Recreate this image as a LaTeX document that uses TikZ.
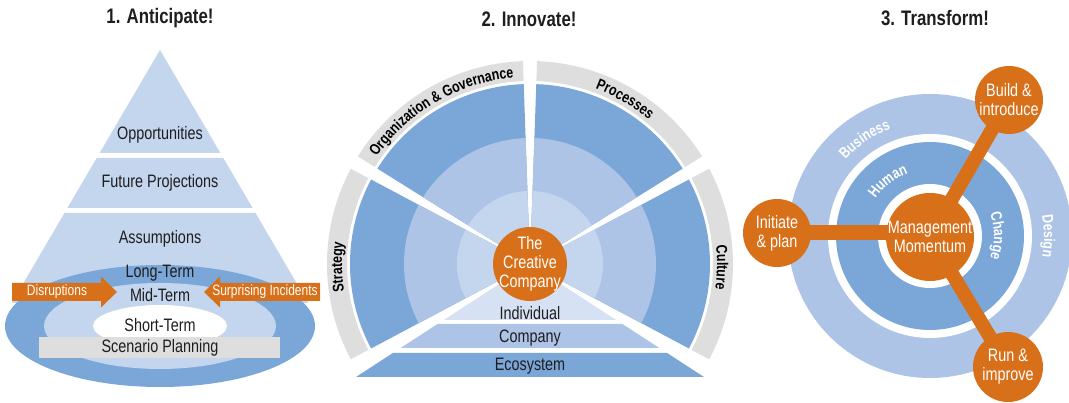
\documentclass[tikz,border=0pt]{standalone}
\usepackage{fontspec}
\setmainfont{Liberation Sans}[FakeStretch=0.8]
\usetikzlibrary{decorations.text,calc}
\pgfdeclarelayer{bg}
\pgfdeclarelayer{lines}
\pgfsetlayers{bg,lines,main}
\definecolor{lbA}{HTML}{D6E2F3}
\definecolor{lbB}{HTML}{C4D5EE}
\definecolor{lbC}{HTML}{ADC4E6}
\definecolor{dbl}{HTML}{7BA6D8}
\definecolor{gry}{HTML}{DEDEDE}
\definecolor{orng}{HTML}{D8701A}
\definecolor{ink}{HTML}{1E1E1E}
\newcommand\glab{\fontsize{15.5}{15.5}\selectfont\bfseries}
\newcommand\pieS[4]{\fill[#4] (C2) -- ($(C2)+(#1:#3)$) arc[start angle=#1, end angle=#2, radius=#3] -- cycle;}
\newcommand\annS[5]{\fill[#5] ($(C2)+(#1:#3)$) arc[start angle=#1, end angle=#2, radius=#3] -- ($(C2)+(#2:#4)$) arc[start angle=#2, end angle=#1, radius=#4] -- cycle;}
\begin{document}
\begin{tikzpicture}[x=1pt,y=1pt,
  txt/.style={font=\fontsize{18}{19}\selectfont, text=ink, inner sep=0pt, align=center},
  wtxt/.style={font=\fontsize{18}{19}\selectfont, text=white, inner sep=0pt, align=center},
  arrtxt/.style={font=\fontsize{15}{16}\selectfont, text=white, inner sep=0pt},
  ttl/.style={font=\fontsize{21}{22}\selectfont\bfseries, text=ink, inner sep=0pt},
  odisc/.style={circle, fill=orng, inner sep=0pt, minimum size=#1},
  conn/.style={draw=orng, line width=#1}
]
\useasboundingbox (0,0) rectangle (1069,403);

% ---------- Panel 1 ----------
\node[ttl] (t1) at (160,385) {1. Anticipate!};
\fill[lbB] (160,353) -- (220.4,250) -- (99.6,250) -- cycle;
\fill[lbB] (96.7,245) -- (223.3,245) -- (252.6,195) -- (67.4,195) -- cycle;
\fill[lbB] (64.5,190) -- (255.5,190) -- (308.3,100) -- (11.7,100) -- cycle;
\fill[dbl] (160,77) ellipse[x radius=155, y radius=61];
\fill[lbB] (160,77) ellipse[x radius=116, y radius=43];
\fill[white] (160,77) ellipse[x radius=67, y radius=21];
\fill[orng] (12,102) -- (101,102) -- (101,95.5) -- (117,111) -- (101,126.5) -- (101,120) -- (12,120) -- cycle;
\fill[orng] (320,102) -- (220,102) -- (220,95.5) -- (204,111) -- (220,126.5) -- (220,120) -- (320,120) -- cycle;
\fill[gry] (39,45) rectangle (280,66);
\node[txt] (opp) at (160,268) {Opportunities};
\node[txt] (fut) at (160,220) {Future Projections};
\node[txt] (ass) at (160,164) {Assumptions};
\node[txt] (lt) at (160,130) {Long-Term};
\node[txt] (mt) at (160,108) {Mid-Term};
\node[txt] (st) at (160,78) {Short-Term};
\node[txt] (sp) at (160,55) {Scenario Planning};
\node[arrtxt] (dis) at (57,111) {Disruptions};
\node[arrtxt] (sur) at (265,111) {Surprising Incidents};

% ---------- Panel 2 ----------
\coordinate (C2) at (530,139);
\node[ttl] (t2) at (529,384) {2. Innovate!};
\foreach \a/\b in {152/208, 92/148, 32/88, -28/28} {
  \pieS{\a}{\b}{180}{dbl}
  \pieS{\a}{\b}{126}{lbC}
  \pieS{\a}{\b}{73}{lbB}
  \annS{\a}{\b}{183}{203}{gry}
}
\fill[lbA] (C2) -- (443.8,83) -- (616.2,83) -- cycle;
\fill[lbC] (437.6,79) -- (622.4,79) -- (659.4,55) -- (400.6,55) -- cycle;
\fill[dbl] (392.9,50) -- (667.1,50) -- (704,26) -- (356,26) -- cycle;
\node[txt] (ind) at (530,90) {Individual};
\node[txt] (com) at (530,65) {Company};
\node[txt] (eco) at (530,37) {Ecosystem};
\node[odisc=74pt] (cc) at (C2) {};
\node[wtxt] (cct) at (cc.center) {The\\Creative\\Company};
\path[decorate, decoration={text along path, text align=center, text={|\glab|Organization {\&} Governance}}]
  ($(C2)+(150:187)$) arc[start angle=150, end angle=90, radius=187];
\path[decorate, decoration={text along path, text align=center, text={|\glab|Processes}}]
  ($(C2)+(88:187)$) arc[start angle=88, end angle=32, radius=187];
\path[decorate, decoration={text along path, text align=center, text={|\glab|Strategy}}]
  ($(C2)+(206:188)$) arc[start angle=206, end angle=156, radius=188];
\path[decorate, decoration={text along path, text align=center, text={|\glab|Culture}}]
  ($(C2)+(24:187)$) arc[start angle=24, end angle=-26, radius=187];

% ---------- Panel 3 ----------
\coordinate (C3) at (930,167);
\node[ttl] (t3) at (935,385) {3. Transform!};
\begin{pgfonlayer}{bg}
  \fill[lbC] (C3) circle[radius=142];
  \fill[white] (C3) circle[radius=102];
  \fill[dbl] (C3) circle[radius=94];
  \fill[white] (C3) circle[radius=52];
\end{pgfonlayer}
\path[decorate, decoration={text along path, text align=center, text={|\glab\color{white}|Business}}]
  ($(C3)+(150:114)$) arc[start angle=150, end angle=98, radius=114];
\path[decorate, decoration={text along path, text align=center, text={|\glab\color{white}|Human}}]
  ($(C3)+(160:66)$) arc[start angle=160, end angle=95, radius=66];
\path[decorate, decoration={text along path, text align=center, text={|\glab\color{white}|Change}}]
  ($(C3)+(30:64)$) arc[start angle=30, end angle=-30, radius=64];
\path[decorate, decoration={text along path, text align=center, text={|\glab\color{white}|Design}}]
  ($(C3)+(20:114)$) arc[start angle=20, end angle=-20, radius=114];
\node[odisc=88pt] (mm) at (930,166) {};
\node[odisc=68pt] (init) at (777,170) {};
\node[odisc=68pt] (build) at (1009,303) {};
\node[odisc=70pt] (run) at (1008,36) {};
\begin{pgfonlayer}{lines}
  \draw[conn=15pt] (init.center) -- (init.center -| mm.center);
  \draw[conn=14pt] (mm.center) -- (build.center);
  \draw[conn=14pt] (mm.center) -- (run.center);
\end{pgfonlayer}
\node[wtxt] (mmt) at (mm.center) {Management\\Momentum};
\node[wtxt] (initt) at (init.center) {Initiate\\\& plan};
\node[wtxt] (buildt) at (build.center) {Build \&\\introduce};
\node[wtxt] (runt) at (run.center) {Run \&\\improve};
\end{tikzpicture}
\end{document}
